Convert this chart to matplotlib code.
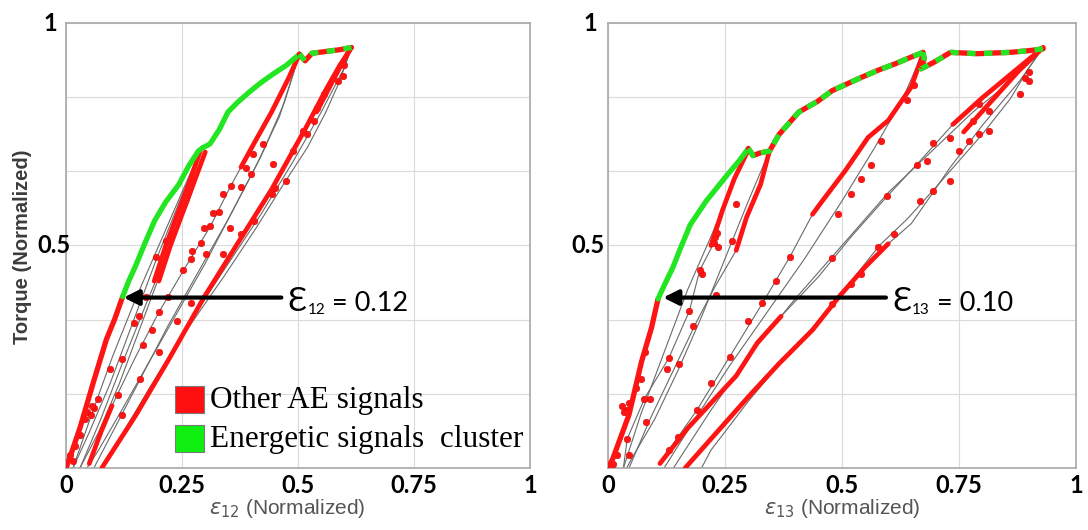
import matplotlib
matplotlib.use("Agg")
import matplotlib.pyplot as plt
from matplotlib.patches import Rectangle

# ---------------- left panel (eps12) ----------------
L_LOAD_X = [0.0, 0.012, 0.03, 0.059, 0.087, 0.105, 0.122]
L_LOAD_Y = [0.0, 0.035, 0.09, 0.193, 0.289, 0.335, 0.385]
L_ENV_X = [0.122, 0.135, 0.149, 0.17, 0.191, 0.215, 0.243, 0.265, 0.285, 0.295]
L_ENV_Y = [0.385, 0.42, 0.452, 0.505, 0.556, 0.598, 0.637, 0.68, 0.712, 0.72]
L_ENV2_X = [0.295, 0.31, 0.33, 0.349, 0.37, 0.394, 0.42, 0.447, 0.475, 0.503]
L_ENV2_Y = [0.72, 0.728, 0.76, 0.80, 0.822, 0.844, 0.866, 0.886, 0.905, 0.93]
L_TOP_X = [0.503, 0.515, 0.53, 0.56, 0.59, 0.615]
L_TOP_Y = [0.93, 0.915, 0.932, 0.936, 0.94, 0.945]

L_DENSE = [
    ([0.19, 0.215, 0.24, 0.265, 0.29], [0.42, 0.5, 0.57, 0.64, 0.715]),
    ([0.2, 0.225, 0.25, 0.275, 0.3], [0.42, 0.5, 0.57, 0.64, 0.71]),
    ([0.377, 0.407, 0.443, 0.48, 0.503], [0.676, 0.733, 0.8, 0.877, 0.93]),
    ([0.05, 0.075, 0.099], [0.01, 0.08, 0.14]),
    ([0.077, 0.15, 0.223, 0.297, 0.37, 0.443, 0.516, 0.56, 0.59, 0.615],
     [0.0, 0.118, 0.247, 0.383, 0.505, 0.626, 0.763, 0.85, 0.905, 0.945]),
    ([0.54, 0.565, 0.59, 0.612], [0.8, 0.85, 0.9, 0.94]),
]

L_GRAY = [
    ([0.0, 0.059, 0.122], [0.0, 0.193, 0.385]),
    ([0.29, 0.245, 0.195, 0.145, 0.095, 0.05, 0.015], [0.715, 0.6, 0.47, 0.33, 0.19, 0.08, 0.0]),
    ([0.015, 0.055, 0.1, 0.15, 0.2, 0.25, 0.29], [0.0, 0.12, 0.25, 0.38, 0.5, 0.62, 0.715]),
    ([0.29, 0.26, 0.215, 0.165, 0.115, 0.07, 0.03], [0.715, 0.6, 0.47, 0.33, 0.19, 0.08, 0.0]),
    ([0.03, 0.075, 0.125, 0.175, 0.225, 0.265, 0.3], [0.0, 0.11, 0.245, 0.375, 0.5, 0.6, 0.71]),
    ([0.503, 0.47, 0.42, 0.36, 0.3, 0.24, 0.18, 0.12, 0.07, 0.045],
     [0.93, 0.82, 0.7, 0.58, 0.46, 0.35, 0.24, 0.13, 0.04, 0.0]),
    ([0.05, 0.099, 0.15, 0.2, 0.253, 0.311, 0.355, 0.407, 0.443, 0.48, 0.503],
     [0.01, 0.14, 0.25, 0.35, 0.444, 0.543, 0.634, 0.733, 0.8, 0.877, 0.93]),
    ([0.503, 0.46, 0.41, 0.35, 0.29, 0.22, 0.15, 0.09, 0.06],
     [0.93, 0.79, 0.68, 0.56, 0.45, 0.32, 0.18, 0.06, 0.0]),
    ([0.615, 0.59, 0.56, 0.52, 0.47, 0.41, 0.34, 0.26, 0.18, 0.12, 0.08],
     [0.945, 0.87, 0.8, 0.72, 0.64, 0.54, 0.43, 0.31, 0.18, 0.07, 0.0]),
    ([0.077, 0.14, 0.21, 0.28, 0.35, 0.42, 0.49, 0.55, 0.6, 0.615],
     [0.0, 0.11, 0.23, 0.35, 0.46, 0.57, 0.69, 0.8, 0.9, 0.945]),
]

L_DOT_X = [0.016, 0.008, 0.02, 0.031, 0.046, 0.04, 0.053, 0.068, 0.094, 0.12, 0.113, 0.12,
           0.146, 0.157, 0.172, 0.194, 0.216, 0.227, 0.165, 0.185, 0.2, 0.22, 0.253, 0.27,
           0.29, 0.311, 0.33, 0.355, 0.271, 0.297, 0.316, 0.339, 0.387, 0.402, 0.425, 0.301,
           0.339, 0.354, 0.376, 0.406, 0.444, 0.376, 0.399, 0.451, 0.474, 0.489, 0.511, 0.534,
           0.541, 0.556, 0.586, 0.519, 0.447, 0.6, 0.597, 0.24, 0.27, 0.2, 0.16, 0.06, 0.055]
L_DOT_Y = [0.015, 0.03, 0.05, 0.074, 0.126, 0.11, 0.119, 0.156, 0.222, 0.244, 0.165, 0.119,
           0.326, 0.341, 0.385, 0.474, 0.511, 0.519, 0.277, 0.31, 0.35, 0.385, 0.444, 0.47,
           0.505, 0.543, 0.575, 0.634, 0.488, 0.54, 0.574, 0.615, 0.675, 0.706, 0.728, 0.48,
           0.48, 0.54, 0.525, 0.555, 0.615, 0.631, 0.66, 0.63, 0.645, 0.713, 0.758, 0.78,
           0.81, 0.84, 0.87, 0.75, 0.683, 0.905, 0.88, 0.33, 0.37, 0.26, 0.2, 0.135, 0.14]

# ---------------- right panel (eps13) ----------------
R_LOAD_X = [0.0, 0.01, 0.045, 0.072, 0.093, 0.107]
R_LOAD_Y = [0.0, 0.02, 0.12, 0.24, 0.315, 0.38]
R_ENV_X = [0.107, 0.12, 0.138, 0.155, 0.176, 0.21, 0.256, 0.28, 0.3]
R_ENV_Y = [0.38, 0.41, 0.449, 0.494, 0.547, 0.6, 0.66, 0.69, 0.718]
R_ENV2_X = [0.3, 0.31, 0.325, 0.345, 0.366, 0.408, 0.448, 0.479, 0.5, 0.542, 0.58, 0.613, 0.64, 0.673]
R_ENV2_Y = [0.718, 0.702, 0.708, 0.712, 0.75, 0.8, 0.824, 0.848, 0.858, 0.878, 0.895, 0.908, 0.92, 0.934]
R_TOP_X = [0.673, 0.676, 0.669, 0.697, 0.732, 0.789, 0.859, 0.901, 0.93]
R_TOP_Y = [0.934, 0.92, 0.897, 0.912, 0.934, 0.931, 0.934, 0.938, 0.942]

R_DENSE = [
    ([0.22, 0.245, 0.27, 0.3], [0.5, 0.58, 0.65, 0.715]),
    ([0.274, 0.296, 0.326, 0.345], [0.489, 0.563, 0.637, 0.712]),
    ([0.437, 0.458, 0.507, 0.556, 0.599, 0.648, 0.673], [0.57, 0.6, 0.668, 0.743, 0.781, 0.856, 0.93]),
    ([0.111, 0.17, 0.222, 0.274, 0.319, 0.37], [0.01, 0.089, 0.148, 0.207, 0.281, 0.341]),
    ([0.737, 0.8, 0.885, 0.93], [0.772, 0.832, 0.906, 0.945]),
    ([0.165, 0.3, 0.366, 0.437, 0.493, 0.549, 0.599], [0.0, 0.16, 0.235, 0.31, 0.384, 0.451, 0.504]),
    ([0.76, 0.82, 0.88, 0.93], [0.755, 0.825, 0.895, 0.945]),
]

R_GRAY = [
    ([0.0, 0.045, 0.093, 0.107], [0.0, 0.12, 0.315, 0.38]),
    ([0.3, 0.256, 0.226, 0.196, 0.174, 0.13, 0.078, 0.041, 0.033],
     [0.718, 0.611, 0.505, 0.444, 0.353, 0.247, 0.156, 0.065, 0.0]),
    ([0.033, 0.07, 0.12, 0.17, 0.22, 0.26, 0.3], [0.0, 0.12, 0.26, 0.4, 0.52, 0.62, 0.715]),
    ([0.345, 0.3, 0.25, 0.2, 0.15, 0.1, 0.05, 0.04], [0.712, 0.6, 0.47, 0.34, 0.22, 0.11, 0.02, 0.0]),
    ([0.045, 0.09, 0.14, 0.19, 0.23, 0.274, 0.296, 0.326, 0.345],
     [0.0, 0.11, 0.22, 0.33, 0.41, 0.489, 0.563, 0.637, 0.712]),
    ([0.673, 0.648, 0.599, 0.556, 0.507, 0.458, 0.437, 0.389, 0.33, 0.26, 0.19, 0.13, 0.11],
     [0.934, 0.856, 0.781, 0.743, 0.668, 0.6, 0.57, 0.475, 0.37, 0.25, 0.13, 0.04, 0.01]),
    ([0.111, 0.17, 0.222, 0.274, 0.319, 0.37, 0.45, 0.52, 0.597, 0.66, 0.737, 0.8, 0.885, 0.93],
     [0.01, 0.089, 0.148, 0.207, 0.281, 0.341, 0.43, 0.52, 0.611, 0.682, 0.772, 0.832, 0.906, 0.945]),
    ([0.165, 0.3, 0.366, 0.437, 0.493, 0.549, 0.599, 0.648, 0.682, 0.731, 0.8, 0.88, 0.93],
     [0.0, 0.16, 0.235, 0.31, 0.384, 0.451, 0.504, 0.549, 0.6, 0.675, 0.77, 0.87, 0.945]),
    ([0.14, 0.22, 0.3, 0.4, 0.5, 0.6, 0.7, 0.78, 0.85, 0.91, 0.93],
     [0.0, 0.13, 0.25, 0.38, 0.5, 0.62, 0.72, 0.8, 0.86, 0.92, 0.945]),
    ([0.673, 0.63, 0.57, 0.5, 0.42, 0.34, 0.26, 0.18, 0.12],
     [0.934, 0.83, 0.72, 0.6, 0.47, 0.35, 0.23, 0.1, 0.0]),
    ([0.93, 0.9, 0.86, 0.8, 0.75, 0.7, 0.64, 0.58, 0.52, 0.45, 0.38, 0.3, 0.22, 0.2],
     [0.945, 0.9, 0.83, 0.75, 0.69, 0.63, 0.56, 0.5, 0.42, 0.33, 0.25, 0.15, 0.04, 0.0]),
]

R_DOT_X = [0.2, 0.23, 0.181, 0.152, 0.126, 0.089, 0.081, 0.044, 0.236, 0.229, 0.266, 0.273,
           0.174, 0.196, 0.226, 0.233, 0.13, 0.078, 0.041, 0.03, 0.04, 0.045, 0.035, 0.02,
           0.01, 0.06, 0.08, 0.07, 0.389, 0.36, 0.33, 0.3, 0.26, 0.22, 0.19, 0.15, 0.13,
           0.639, 0.653, 0.583, 0.562, 0.541, 0.52, 0.492, 0.597, 0.66, 0.681, 0.695, 0.73,
           0.751, 0.772, 0.793, 0.815, 0.815, 0.793, 0.779, 0.73, 0.695, 0.667, 0.611, 0.576,
           0.541, 0.52, 0.478, 0.478, 0.892, 0.899, 0.9, 0.88]
R_DOT_Y = [0.437, 0.389, 0.319, 0.233, 0.222, 0.156, 0.104, 0.03, 0.496, 0.519, 0.511, 0.593,
           0.353, 0.444, 0.505, 0.528, 0.247, 0.156, 0.065, 0.14, 0.13, 0.145, 0.125, 0.03,
           0.01, 0.18, 0.26, 0.2, 0.475, 0.42, 0.37, 0.33, 0.25, 0.19, 0.13, 0.07, 0.04,
           0.828, 0.861, 0.734, 0.682, 0.649, 0.615, 0.57, 0.611, 0.682, 0.69, 0.731, 0.742,
           0.712, 0.735, 0.75, 0.757, 0.802, 0.817, 0.779, 0.645, 0.623, 0.6, 0.525, 0.496,
           0.436, 0.414, 0.369, 0.473, 0.876, 0.891, 0.87, 0.84]

X_TICKS = [0, 0.25, 0.5, 0.75, 1]
X_TICK_LABELS = ['0', '0.25', '0.5', '0.75', '1']
Y_GRID = [0, 1 / 6, 2 / 6, 3 / 6, 4 / 6, 5 / 6, 1]

RED = '#ff1414'
GREEN = '#22e622'
GRAY = '#6a6a6a'


def draw_panel(ax, gray, dense, load, env, env2, top, dots_x, dots_y, mixed_env2):
    for xs, ys in gray:
        ax.plot(xs, ys, color=GRAY, lw=0.8, zorder=2)
    ax.scatter(dots_x, dots_y, s=22, color=RED, edgecolors='#d80000',
               linewidths=0.4, zorder=3)
    for xs, ys in dense:
        ax.plot(xs, ys, color=RED, lw=3.4, solid_capstyle='round', zorder=3)
    ax.plot(load[0], load[1], color=RED, lw=3.8, solid_capstyle='round', zorder=4)
    ax.plot(env[0], env[1], color=GREEN, lw=3.8, solid_capstyle='round', zorder=4)
    if mixed_env2:
        ax.plot(env2[0], env2[1], color=RED, lw=3.8, solid_capstyle='round', zorder=4)
        ax.plot(env2[0], env2[1], color=GREEN, lw=3.8, dashes=(2.0, 1.2), zorder=5)
    else:
        ax.plot(env2[0], env2[1], color=GREEN, lw=3.8, solid_capstyle='round', zorder=4)
    ax.plot(top[0], top[1], color=RED, lw=3.8, solid_capstyle='round', zorder=4)
    ax.plot(top[0], top[1], color=GREEN, lw=3.8, dashes=(1.6, 1.6), zorder=5)

    ax.set_xlim(0, 1)
    ax.set_ylim(0, 1)
    ax.set_xticks(X_TICKS)
    ax.set_xticklabels(X_TICK_LABELS, fontsize=17, fontweight='bold', family='Lato')
    ax.set_yticks(Y_GRID)
    ax.set_yticklabels([])
    ax.tick_params(length=0, pad=4)
    ax.grid(True, color='#dadada', lw=0.8, zorder=0)
    ax.set_axisbelow(True)
    for sp in ax.spines.values():
        sp.set_color('#a8a8a8')
        sp.set_linewidth(1.2)


def annotate_eps(ax, tip_x, tail_x, y, sub, value):
    ax.annotate('', xy=(tip_x, y), xytext=(tail_x, y),
                arrowprops=dict(arrowstyle='-|>,head_length=0.9,head_width=0.45',
                                color='black', lw=3), zorder=6)
    t1 = ax.text(tail_x + 0.008, y - 0.03, '\u0190', fontsize=23,
                 family=['Lato', 'DejaVu Sans'], va='baseline', zorder=6)
    t2 = ax.annotate(sub, xy=(1, 0), xycoords=t1, xytext=(0.5, 0),
                     textcoords='offset points', fontsize=11, family='Lato',
                     va='bottom', zorder=6)
    ax.annotate(' = ' + value, xy=(1, 0), xycoords=t2, xytext=(0, 1),
                textcoords='offset points', fontsize=19.5, family='Lato',
                va='bottom', zorder=6)


fig = plt.figure(figsize=(10.88, 5.30), dpi=100)
ax1 = fig.add_axes([0.0607, 0.117, 0.4265, 0.8396])
ax2 = fig.add_axes([0.5588, 0.117, 0.4301, 0.8396])

draw_panel(ax1, L_GRAY, L_DENSE, (L_LOAD_X, L_LOAD_Y), (L_ENV_X, L_ENV_Y),
           (L_ENV2_X, L_ENV2_Y), (L_TOP_X, L_TOP_Y), L_DOT_X, L_DOT_Y, False)
draw_panel(ax2, R_GRAY, R_DENSE, (R_LOAD_X, R_LOAD_Y), (R_ENV_X, R_ENV_Y),
           (R_ENV2_X, R_ENV2_Y), (R_TOP_X, R_TOP_Y), R_DOT_X, R_DOT_Y, True)

# y tick labels (only 0.5 and 1 are labelled)
for ax, x1, x05 in [(ax1, -0.018, 0.01), (ax2, -0.022, -0.008)]:
    ax.text(x1, 1.0, '1', transform=ax.transAxes, ha='right', va='center',
            fontsize=17, fontweight='bold', family='Lato')
    ax.text(x05, 0.5, '0.5', transform=ax.transAxes, ha='right', va='center',
            fontsize=17, fontweight='bold', family='Lato')

ax1.text(0.476, -0.09, r'$\varepsilon_{12}$ (Normalized)', transform=ax1.transAxes,
         ha='center', va='center', fontsize=15, color='#555555', family='Liberation Sans')
ax2.text(0.5, -0.09, r'$\varepsilon_{13}$ (Normalized)', transform=ax2.transAxes,
         ha='center', va='center', fontsize=15, color='#555555', family='Liberation Sans')
fig.text(23 / 1088, 0.535, 'Torque (Normalized)', rotation=90, ha='center', va='center',
         fontsize=14.5, fontweight='bold', color='#3c3c3c', family='Liberation Sans')

annotate_eps(ax1, 0.118, 0.47, 0.383, '12', '0.12')
annotate_eps(ax2, 0.112, 0.6, 0.383, '13', '0.10')

# legend in the left panel
ax1.add_patch(Rectangle((0.235, 0.124), 0.062, 0.06, transform=ax1.transAxes,
                        facecolor='#ff1010', edgecolor='#7a7a7a', lw=0.8, zorder=6))
ax1.add_patch(Rectangle((0.235, 0.036), 0.062, 0.06, transform=ax1.transAxes,
                        facecolor='#10f010', edgecolor='#7a7a7a', lw=0.8, zorder=6))
ax1.text(0.31, 0.152, 'Other AE signals', transform=ax1.transAxes, va='center',
         fontsize=22.5, family='Liberation Serif', zorder=6)
ax1.text(0.31, 0.064, 'Energetic signals  cluster', transform=ax1.transAxes, va='center',
         fontsize=22.5, family='Liberation Serif', zorder=6)

fig.savefig('out.png', dpi=100)
